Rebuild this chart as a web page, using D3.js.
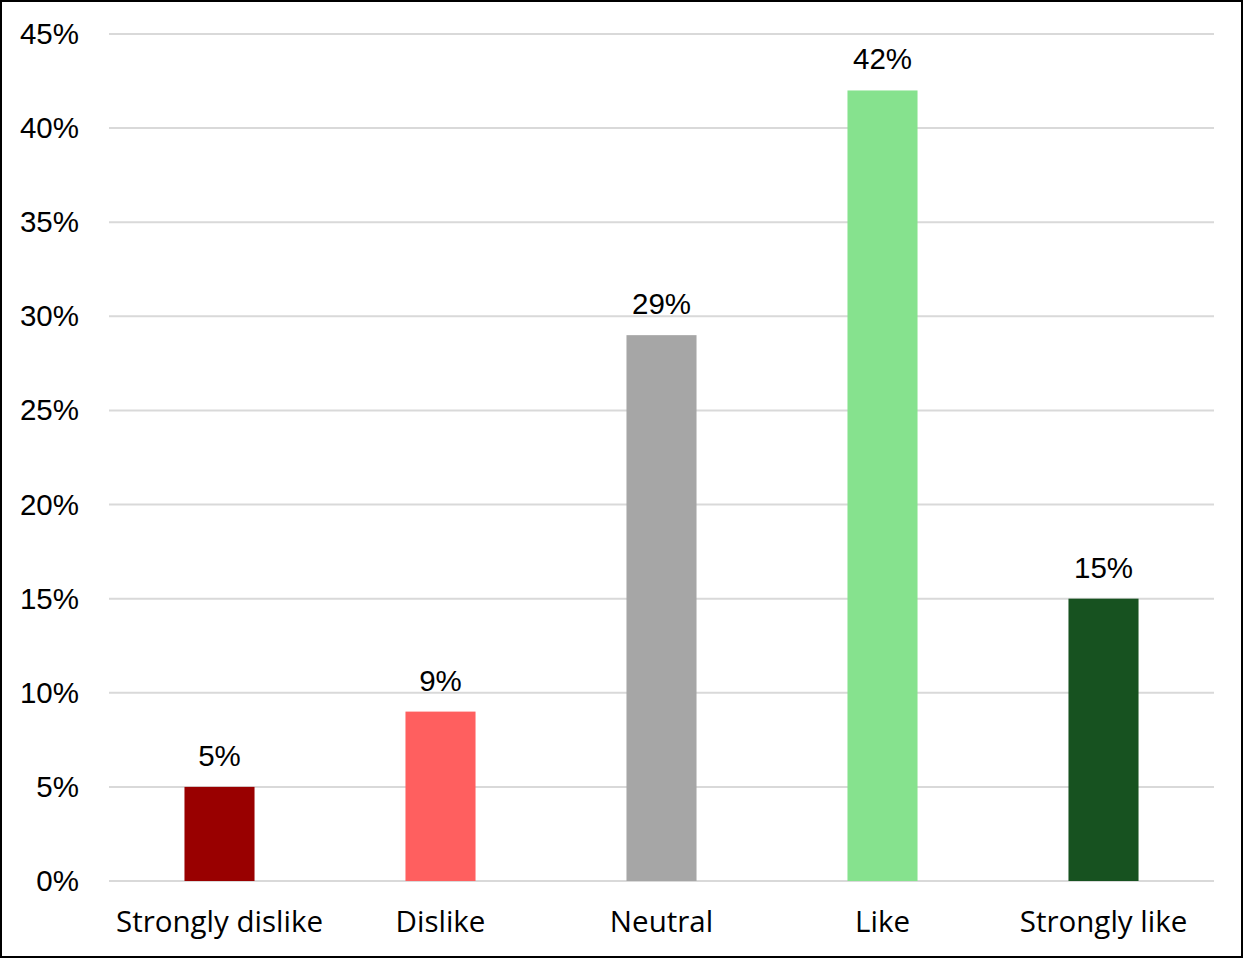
<!DOCTYPE html>
<html>
<head>
<meta charset="utf-8">
<script src="https://cdn.jsdelivr.net/npm/d3@7"></script>
<style>
  html, body { margin: 0; padding: 0; background: #fff; }
  svg { display: block; }
</style>
</head>
<body>
<svg id="chart" width="1243" height="958"></svg>
<script>
// Survey responses: share of respondents per rating
const categories = ["Strongly dislike", "Dislike", "Neutral", "Like", "Strongly like"];
const shares = [5, 9, 29, 42, 15];
const barColors = ["#990000", "#FF5F5F", "#A6A6A6", "#86E28E", "#175220"];
const yTicks = [0, 5, 10, 15, 20, 25, 30, 35, 40, 45];

const W = 1243, H = 958;
const plot = { left: 109, right: 1214, top: 34, bottom: 881 };

const svg = d3.select("#chart");

// outer frame
svg.append("rect")
  .attr("x", 1).attr("y", 1).attr("width", W - 2).attr("height", H - 2)
  .attr("fill", "#fff").attr("stroke", "#000").attr("stroke-width", 2);

const x = d3.scaleBand().domain(categories).range([plot.left, plot.right]).paddingInner(0.683).paddingOuter(0.3415);
const y = d3.scaleLinear().domain([0, 45]).range([plot.bottom, plot.top]);

// horizontal gridlines
svg.append("g").selectAll("line").data(yTicks).join("line")
  .attr("x1", plot.left).attr("x2", plot.right)
  .attr("y1", d => y(d)).attr("y2", d => y(d))
  .attr("stroke", "#d9d9d9").attr("stroke-width", 2);

// y tick labels
const yAxis = d3.axisLeft(y).tickValues(yTicks).tickFormat(d => d + "%").tickSize(0).tickPadding(0);
const yg = svg.append("g").attr("transform", `translate(79,0)`).call(yAxis);
yg.select(".domain").remove();
yg.selectAll("text")
  .attr("font-family", "Liberation Sans, Arial, sans-serif")
  .attr("font-size", 29.5).attr("fill", "#000");

// bars
svg.append("g").selectAll("rect").data(shares).join("rect")
  .attr("x", (d, i) => x(categories[i]))
  .attr("width", x.bandwidth())
  .attr("y", d => y(d))
  .attr("height", d => y(0) - y(d))
  .attr("fill", (d, i) => barColors[i]);

// value labels
svg.append("g").selectAll("text").data(shares).join("text")
  .attr("x", (d, i) => x(categories[i]) + x.bandwidth() / 2)
  .attr("y", d => y(d) - 21)
  .attr("text-anchor", "middle")
  .attr("font-family", "Liberation Sans, Arial, sans-serif")
  .attr("font-size", 29.5).attr("fill", "#000")
  .text(d => d + "%");

// category labels
const xAxis = d3.axisBottom(x).tickSize(0).tickPadding(0);
const xg = svg.append("g").attr("transform", `translate(0,${plot.bottom})`).call(xAxis);
xg.select(".domain").remove();
xg.selectAll("text")
  .attr("dy", null).attr("y", 51)
  .attr("font-family", "Open Sans, sans-serif")
  .attr("font-size", 29.5).attr("fill", "#000");
</script>
</body>
</html>
